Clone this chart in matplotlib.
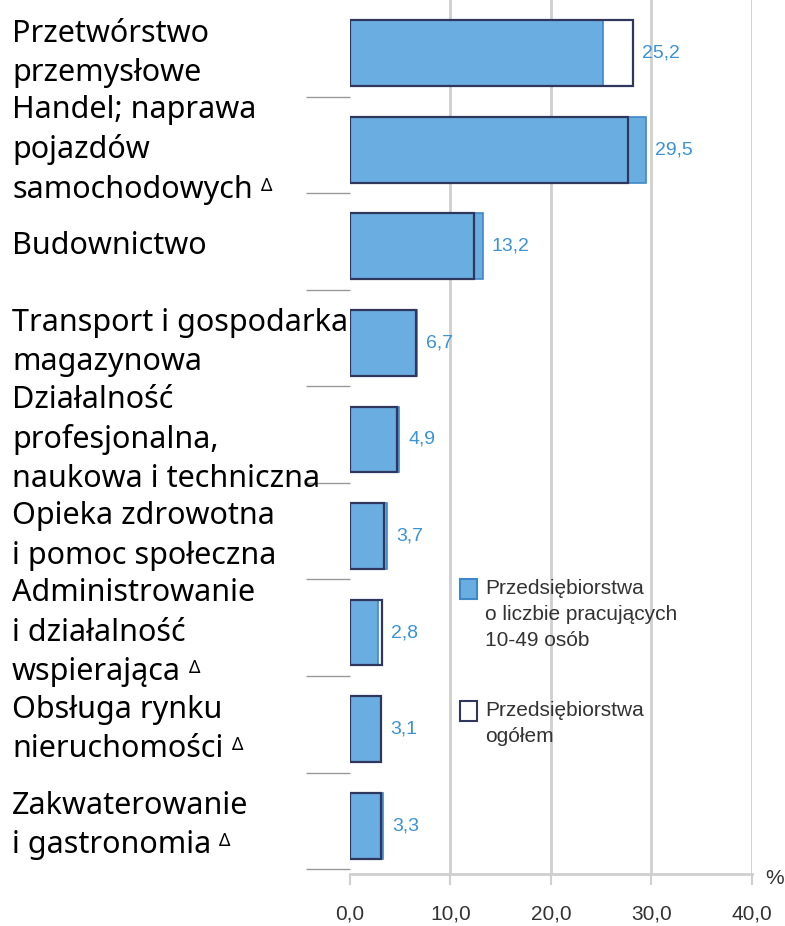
import matplotlib
matplotlib.use("Agg")
import matplotlib.pyplot as plt
from matplotlib.patches import Rectangle
import numpy as np

categories = [
    "Przetwórstwo\nprzemysłowe",
    "Handel; naprawa\npojazdów\nsamochodowych",
    "Budownictwo",
    "Transport i gospodarka\nmagazynowa",
    "Działalność\nprofesjonalna,\nnaukowa i techniczna",
    "Opieka zdrowotna\ni pomoc społeczna",
    "Administrowanie\ni działalność\nwspierająca",
    "Obsługa rynku\nnieruchomości",
    "Zakwaterowanie\ni gastronomia",
]
delta = [False, True, False, False, False, False, True, True, True]
small_firms = [25.2, 29.5, 13.2, 6.7, 4.9, 3.7, 2.8, 3.1, 3.3]
all_firms = [28.2, 27.7, 12.3, 6.6, 4.7, 3.4, 3.2, 3.1, 3.1]
xticks = [0, 10, 20, 30, 40]
xtick_labels = ["0,0", "10,0", "20,0", "30,0", "40,0"]
legend_labels = ["Przedsiębiorstwa\no liczbie pracujących\n10-49 osób",
                 "Przedsiębiorstwa\nogółem"]

blue = "#6aade0"
blue_edge = "#3f88c8"
navy = "#30375e"
val_color = "#3a93d6"
grid_color = "#cfcfcf"
cat_font = "Noto Sans"
num_font = "Liberation Sans"
cat_size = 22

W, H = 785, 926
fig = plt.figure(figsize=(W / 100, H / 100), dpi=100)
ax = fig.add_axes([350 / W, 52 / H, 401.7 / W, 874 / H])

y = np.arange(len(categories))
h = 0.68

# white "ogolem" bars underneath, blue on top, then white outline on top
ax.barh(y, all_firms, height=h, color="white", edgecolor="none", zorder=2)
ax.barh(y, small_firms, height=h, color=blue, edgecolor=blue_edge, linewidth=1.2, zorder=3)
ax.barh(y, all_firms, height=h, color="none", edgecolor=navy, linewidth=1.6, zorder=4)

for i in range(len(y)):
    ax.text(max(small_firms[i], all_firms[i]) + 0.9, y[i], f"{small_firms[i]:.1f}".replace(".", ","),
            color=val_color, fontsize=14, family=num_font, va="center", ha="left")

ax.set_xlim(0, 40)
ax.set_ylim(8.5, -0.55)

for t in xticks[1:]:
    ax.axvline(t, color=grid_color, linewidth=2, zorder=1)

for s in ["top", "right", "left"]:
    ax.spines[s].set_visible(False)
ax.spines["bottom"].set_color(grid_color)
ax.spines["bottom"].set_linewidth(2)

ax.set_xticks(xticks)
ax.set_xticklabels(xtick_labels, family=num_font, fontsize=15, color="#333333")
ax.tick_params(axis="x", direction="out", length=8, width=1.5, color=grid_color, pad=14)

# category separators as y ticks pointing left
ax.set_yticks(y + 0.45)
ax.set_yticklabels([])
ax.tick_params(axis="y", direction="out", length=32, width=1, color="#999999")

fig.canvas.draw()
r = fig.canvas.get_renderer()
for i, lab in enumerate(categories):
    yc = ax.transData.transform((0, y[i]))[1]
    t = fig.text(12 / W, yc / H, lab, fontsize=cat_size, family=cat_font, va="center",
                 ha="left", linespacing=1.4, color="black")
    if delta[i]:
        bb = t.get_window_extent(r)
        last = lab.split("\n")[-1]
        tmp = fig.text(0, 0, last, fontsize=cat_size, family=cat_font)
        wl = tmp.get_window_extent(r).width
        tmp.remove()
        fig.text((12 + wl + 8) / W, (bb.y0 + 14) / H, "Δ", fontsize=13,
                 family=cat_font, va="baseline", ha="left")

fig.text(775 / W, (H - 878) / H, "%", fontsize=15, family=num_font, color="#333333",
         ha="center", va="center")

# legend drawn by hand
leg_y = [589, 711]
leg_face = [blue, "white"]
leg_edge = [blue_edge, navy]
for k in range(2):
    fig.add_artist(Rectangle((460 / W, (H - leg_y[k] - 10) / H), 17 / W, 20 / H,
                             facecolor=leg_face[k], edgecolor=leg_edge[k], linewidth=1.5,
                             transform=fig.transFigure))
    fig.text(485 / W, (H - leg_y[k] + 10) / H, legend_labels[k], fontsize=15, family=num_font,
             color="#333333", va="top", ha="left", linespacing=1.45)

fig.savefig("out.png", dpi=100)
